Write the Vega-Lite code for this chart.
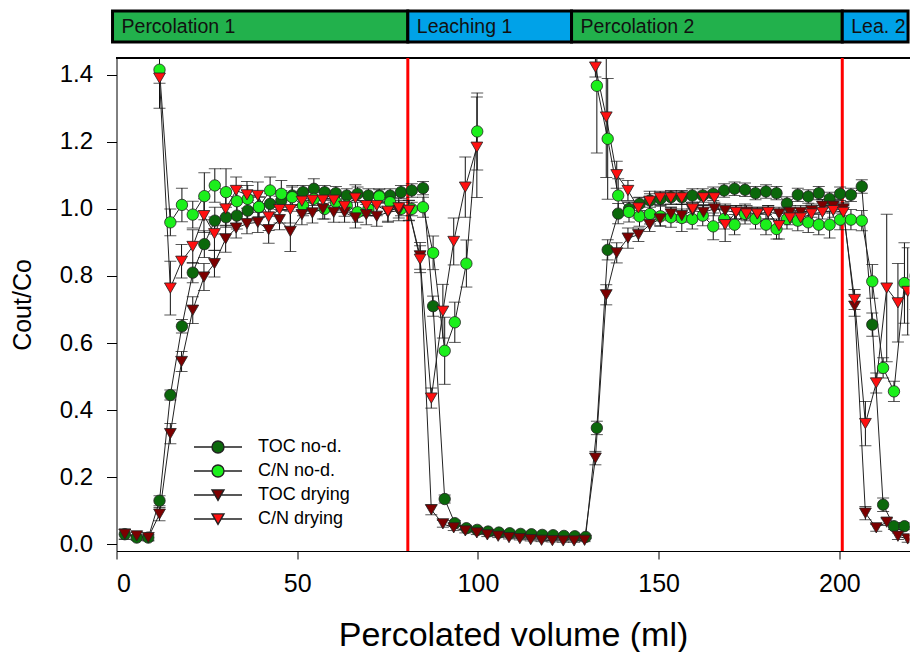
{
  "$schema": "https://vega.github.io/schema/vega-lite/v6.json",
  "padding": {"left": 10.5, "top": 9, "right": 0, "bottom": 0},
  "spacing": 12,
  "resolve": {"scale": {"color": "independent", "x": "independent", "shape": "independent"}, "legend": {"color": "independent", "shape": "independent"}},
  "config": {
    "font": "Liberation Sans",
    "view": {"stroke": null},
    "axis": {"domainColor": "#000", "tickColor": "#000", "labelColor": "#000", "titleColor": "#000", "grid": false, "titleFontWeight": "normal", "labelFont": "Liberation Sans", "titleFont": "Liberation Sans"}
  },
  "datasets": {
    "phases": [
      {"phase": "Percolation 1", "start": -1.1, "end": 80.6, "kind": "percolation"},
      {"phase": "Leaching 1", "start": 80.6, "end": 125.9, "kind": "leaching"},
      {"phase": "Percolation 2", "start": 125.9, "end": 200.8, "kind": "percolation"},
      {"phase": "Lea. 2", "start": 200.8, "end": 219.0, "kind": "leaching"}
    ],
    "obs": [
      {"s":"TOC no-d.","p":1,"x":2.3,"y":0.03,"e":0.015},{"s":"TOC no-d.","p":1,"x":5.6,"y":0.02,"e":0.008},{"s":"TOC no-d.","p":1,"x":8.8,"y":0.02,"e":0.008},{"s":"TOC no-d.","p":1,"x":11.9,"y":0.13,"e":0.015},{"s":"TOC no-d.","p":1,"x":14.9,"y":0.445,"e":0.015},{"s":"TOC no-d.","p":1,"x":18.1,"y":0.65,"e":0.02},{"s":"TOC no-d.","p":1,"x":21.1,"y":0.81,"e":0.03},{"s":"TOC no-d.","p":1,"x":24.3,"y":0.895,"e":0.04},{"s":"TOC no-d.","p":1,"x":27.2,"y":0.965,"e":0.04},{"s":"TOC no-d.","p":1,"x":30.3,"y":0.975,"e":0.03},{"s":"TOC no-d.","p":1,"x":33.3,"y":0.98,"e":0.04},{"s":"TOC no-d.","p":1,"x":36.3,"y":0.995,"e":0.03},{"s":"TOC no-d.","p":1,"x":39.4,"y":1.005,"e":0.03},{"s":"TOC no-d.","p":1,"x":42.5,"y":1.015,"e":0.03},{"s":"TOC no-d.","p":1,"x":45.6,"y":1.025,"e":0.03},{"s":"TOC no-d.","p":1,"x":48.6,"y":1.04,"e":0.03},{"s":"TOC no-d.","p":1,"x":51.6,"y":1.05,"e":0.02},{"s":"TOC no-d.","p":1,"x":54.6,"y":1.06,"e":0.03},{"s":"TOC no-d.","p":1,"x":57.6,"y":1.05,"e":0.02},{"s":"TOC no-d.","p":1,"x":60.7,"y":1.047,"e":0.02},{"s":"TOC no-d.","p":1,"x":63.7,"y":1.04,"e":0.02},{"s":"TOC no-d.","p":1,"x":66.7,"y":1.045,"e":0.02},{"s":"TOC no-d.","p":1,"x":69.7,"y":1.04,"e":0.02},{"s":"TOC no-d.","p":1,"x":72.7,"y":1.04,"e":0.02},{"s":"TOC no-d.","p":1,"x":75.7,"y":1.04,"e":0.02},{"s":"TOC no-d.","p":1,"x":78.7,"y":1.05,"e":0.02},{"s":"TOC no-d.","p":1,"x":81.7,"y":1.055,"e":0.02},
      {"s":"TOC no-d.","p":1,"x":84.8,"y":1.062,"e":0.02},{"s":"TOC no-d.","p":1,"x":87.6,"y":0.71,"e":0.03},{"s":"TOC no-d.","p":1,"x":90.8,"y":0.135,"e":0.012},{"s":"TOC no-d.","p":1,"x":93.6,"y":0.063,"e":0.008},{"s":"TOC no-d.","p":1,"x":96.8,"y":0.048,"e":0.006},{"s":"TOC no-d.","p":1,"x":99.8,"y":0.043,"e":0.005},{"s":"TOC no-d.","p":1,"x":102.8,"y":0.038,"e":0.005},{"s":"TOC no-d.","p":1,"x":105.8,"y":0.035,"e":0.005},{"s":"TOC no-d.","p":1,"x":108.8,"y":0.033,"e":0.004},{"s":"TOC no-d.","p":1,"x":111.8,"y":0.031,"e":0.004},{"s":"TOC no-d.","p":1,"x":114.8,"y":0.03,"e":0.004},{"s":"TOC no-d.","p":1,"x":117.8,"y":0.028,"e":0.004},{"s":"TOC no-d.","p":1,"x":120.8,"y":0.027,"e":0.004},{"s":"TOC no-d.","p":1,"x":123.8,"y":0.025,"e":0.004},{"s":"TOC no-d.","p":1,"x":126.8,"y":0.024,"e":0.004},{"s":"TOC no-d.","p":1,"x":129.8,"y":0.022,"e":0.004},
      {"s":"TOC no-d.","p":1,"x":132.9,"y":0.347,"e":0.02},{"s":"TOC no-d.","p":1,"x":135.9,"y":0.878,"e":0.03},{"s":"TOC no-d.","p":1,"x":138.8,"y":0.986,"e":0.03},{"s":"TOC no-d.","p":1,"x":141.8,"y":1.0,"e":0.02},{"s":"TOC no-d.","p":1,"x":144.7,"y":1.015,"e":0.02},{"s":"TOC no-d.","p":1,"x":147.6,"y":1.025,"e":0.02},{"s":"TOC no-d.","p":1,"x":150.5,"y":1.03,"e":0.02},{"s":"TOC no-d.","p":1,"x":153.4,"y":1.035,"e":0.02},{"s":"TOC no-d.","p":1,"x":156.4,"y":1.035,"e":0.02},{"s":"TOC no-d.","p":1,"x":159.3,"y":1.04,"e":0.02},{"s":"TOC no-d.","p":1,"x":162.2,"y":1.04,"e":0.02},{"s":"TOC no-d.","p":1,"x":165.1,"y":1.045,"e":0.02},{"s":"TOC no-d.","p":1,"x":168.1,"y":1.055,"e":0.02},{"s":"TOC no-d.","p":1,"x":171.0,"y":1.06,"e":0.02},{"s":"TOC no-d.","p":1,"x":173.9,"y":1.057,"e":0.02},{"s":"TOC no-d.","p":1,"x":176.8,"y":1.047,"e":0.02},{"s":"TOC no-d.","p":1,"x":179.7,"y":1.052,"e":0.02},{"s":"TOC no-d.","p":1,"x":182.6,"y":1.047,"e":0.02},{"s":"TOC no-d.","p":1,"x":185.5,"y":1.016,"e":0.02},{"s":"TOC no-d.","p":1,"x":188.5,"y":1.042,"e":0.02},{"s":"TOC no-d.","p":1,"x":191.4,"y":1.037,"e":0.02},{"s":"TOC no-d.","p":1,"x":194.3,"y":1.047,"e":0.02},{"s":"TOC no-d.","p":1,"x":197.3,"y":1.03,"e":0.02},{"s":"TOC no-d.","p":1,"x":200.2,"y":1.045,"e":0.02},{"s":"TOC no-d.","p":1,"x":203.2,"y":1.042,"e":0.02},{"s":"TOC no-d.","p":1,"x":206.2,"y":1.067,"e":0.02},{"s":"TOC no-d.","p":1,"x":209.1,"y":0.655,"e":0.035},{"s":"TOC no-d.","p":1,"x":212.1,"y":0.118,"e":0.02},{"s":"TOC no-d.","p":1,"x":215.1,"y":0.054,"e":0.01},{"s":"TOC no-d.","p":1,"x":218.0,"y":0.054,"e":0.01},{"s":"TOC no-d.","p":1,"x":221.0,"y":0.05,"e":0.01},

      {"s":"C/N no-d.","p":1,"x":11.9,"y":1.415,"e":0.04},{"s":"C/N no-d.","p":1,"x":14.9,"y":0.96,"e":0.04},{"s":"C/N no-d.","p":1,"x":18.1,"y":1.012,"e":0.05},{"s":"C/N no-d.","p":1,"x":21.1,"y":0.983,"e":0.04},{"s":"C/N no-d.","p":1,"x":24.3,"y":1.038,"e":0.07},{"s":"C/N no-d.","p":1,"x":27.2,"y":1.07,"e":0.05},{"s":"C/N no-d.","p":1,"x":30.3,"y":1.05,"e":0.07},{"s":"C/N no-d.","p":1,"x":33.3,"y":1.023,"e":0.04},{"s":"C/N no-d.","p":1,"x":36.3,"y":1.03,"e":0.04},{"s":"C/N no-d.","p":1,"x":39.4,"y":1.006,"e":0.03},{"s":"C/N no-d.","p":1,"x":42.5,"y":1.055,"e":0.04},{"s":"C/N no-d.","p":1,"x":45.6,"y":1.045,"e":0.04},{"s":"C/N no-d.","p":1,"x":48.6,"y":1.035,"e":0.03},{"s":"C/N no-d.","p":1,"x":51.6,"y":1.01,"e":0.03},{"s":"C/N no-d.","p":1,"x":54.6,"y":1.03,"e":0.02},{"s":"C/N no-d.","p":1,"x":57.6,"y":1.0,"e":0.03},{"s":"C/N no-d.","p":1,"x":60.7,"y":1.02,"e":0.02},{"s":"C/N no-d.","p":1,"x":63.7,"y":1.01,"e":0.02},{"s":"C/N no-d.","p":1,"x":66.7,"y":0.99,"e":0.03},{"s":"C/N no-d.","p":1,"x":69.7,"y":1.0,"e":0.02},{"s":"C/N no-d.","p":1,"x":72.7,"y":1.037,"e":0.02},{"s":"C/N no-d.","p":1,"x":75.7,"y":1.02,"e":0.02},{"s":"C/N no-d.","p":1,"x":78.7,"y":1.0,"e":0.02},{"s":"C/N no-d.","p":1,"x":81.7,"y":1.0,"e":0.02},{"s":"C/N no-d.","p":1,"x":84.8,"y":1.005,"e":0.03},{"s":"C/N no-d.","p":1,"x":87.6,"y":0.869,"e":0.05},{"s":"C/N no-d.","p":1,"x":90.8,"y":0.577,"e":0.1},{"s":"C/N no-d.","p":1,"x":93.6,"y":0.662,"e":0.06},{"s":"C/N no-d.","p":1,"x":96.8,"y":0.837,"e":0.07},{"s":"C/N no-d.","p":1,"x":99.8,"y":1.231,"e":0.115},
      {"s":"C/N no-d.","p":2,"x":132.9,"y":1.367,"e":0.2},{"s":"C/N no-d.","p":2,"x":135.9,"y":1.209,"e":0.18},{"s":"C/N no-d.","p":2,"x":138.8,"y":1.04,"e":0.05},{"s":"C/N no-d.","p":2,"x":141.8,"y":0.991,"e":0.03},{"s":"C/N no-d.","p":2,"x":144.7,"y":0.978,"e":0.03},{"s":"C/N no-d.","p":2,"x":147.6,"y":0.985,"e":0.03},{"s":"C/N no-d.","p":2,"x":150.5,"y":0.978,"e":0.03},{"s":"C/N no-d.","p":2,"x":153.4,"y":0.975,"e":0.03},{"s":"C/N no-d.","p":2,"x":156.4,"y":0.973,"e":0.04},{"s":"C/N no-d.","p":2,"x":159.3,"y":0.97,"e":0.03},{"s":"C/N no-d.","p":2,"x":162.2,"y":0.98,"e":0.03},{"s":"C/N no-d.","p":2,"x":165.1,"y":0.948,"e":0.04},{"s":"C/N no-d.","p":2,"x":168.1,"y":0.97,"e":0.03},{"s":"C/N no-d.","p":2,"x":171.0,"y":0.953,"e":0.03},{"s":"C/N no-d.","p":2,"x":173.9,"y":0.985,"e":0.03},{"s":"C/N no-d.","p":2,"x":176.8,"y":0.97,"e":0.03},{"s":"C/N no-d.","p":2,"x":179.7,"y":0.953,"e":0.03},{"s":"C/N no-d.","p":2,"x":182.6,"y":0.94,"e":0.03},{"s":"C/N no-d.","p":2,"x":185.5,"y":0.97,"e":0.03},{"s":"C/N no-d.","p":2,"x":188.5,"y":0.965,"e":0.03},{"s":"C/N no-d.","p":2,"x":191.4,"y":0.96,"e":0.03},{"s":"C/N no-d.","p":2,"x":194.3,"y":0.953,"e":0.03},{"s":"C/N no-d.","p":2,"x":197.3,"y":0.953,"e":0.04},{"s":"C/N no-d.","p":2,"x":200.2,"y":0.968,"e":0.03},{"s":"C/N no-d.","p":2,"x":203.2,"y":0.968,"e":0.03},{"s":"C/N no-d.","p":2,"x":206.2,"y":0.965,"e":0.03},{"s":"C/N no-d.","p":2,"x":209.1,"y":0.784,"e":0.05},{"s":"C/N no-d.","p":2,"x":212.1,"y":0.526,"e":0.03},{"s":"C/N no-d.","p":2,"x":215.1,"y":0.456,"e":0.03},{"s":"C/N no-d.","p":2,"x":218.0,"y":0.779,"e":0.12},{"s":"C/N no-d.","p":2,"x":221.0,"y":0.8,"e":0.1},

      {"s":"TOC drying","p":1,"x":2.3,"y":0.03,"e":0.015},{"s":"TOC drying","p":1,"x":5.6,"y":0.025,"e":0.01},{"s":"TOC drying","p":1,"x":8.8,"y":0.02,"e":0.01},{"s":"TOC drying","p":1,"x":11.9,"y":0.09,"e":0.02},{"s":"TOC drying","p":1,"x":14.9,"y":0.33,"e":0.03},{"s":"TOC drying","p":1,"x":18.0,"y":0.545,"e":0.03},{"s":"TOC drying","p":1,"x":21.1,"y":0.698,"e":0.04},{"s":"TOC drying","p":1,"x":24.2,"y":0.797,"e":0.04},{"s":"TOC drying","p":1,"x":27.1,"y":0.837,"e":0.04},{"s":"TOC drying","p":1,"x":30.2,"y":0.911,"e":0.04},{"s":"TOC drying","p":1,"x":33.1,"y":0.943,"e":0.03},{"s":"TOC drying","p":1,"x":36.1,"y":0.956,"e":0.03},{"s":"TOC drying","p":1,"x":39.1,"y":0.96,"e":0.03},{"s":"TOC drying","p":1,"x":42.1,"y":0.938,"e":0.04},{"s":"TOC drying","p":1,"x":45.1,"y":0.968,"e":0.03},{"s":"TOC drying","p":1,"x":48.1,"y":0.933,"e":0.06},{"s":"TOC drying","p":1,"x":51.3,"y":0.983,"e":0.03},{"s":"TOC drying","p":1,"x":54.2,"y":0.988,"e":0.03},{"s":"TOC drying","p":1,"x":57.1,"y":1.0,"e":0.03},{"s":"TOC drying","p":1,"x":60.1,"y":0.99,"e":0.03},{"s":"TOC drying","p":1,"x":63.1,"y":0.99,"e":0.03},{"s":"TOC drying","p":1,"x":66.1,"y":0.973,"e":0.03},{"s":"TOC drying","p":1,"x":69.1,"y":0.983,"e":0.03},{"s":"TOC drying","p":1,"x":72.0,"y":0.978,"e":0.03},{"s":"TOC drying","p":1,"x":75.1,"y":0.99,"e":0.03},{"s":"TOC drying","p":1,"x":78.1,"y":0.995,"e":0.03},{"s":"TOC drying","p":1,"x":80.9,"y":0.995,"e":0.03},
      {"s":"TOC drying","p":1,"x":84.0,"y":0.86,"e":0.04},{"s":"TOC drying","p":1,"x":87.1,"y":0.103,"e":0.015},{"s":"TOC drying","p":1,"x":90.3,"y":0.061,"e":0.01},{"s":"TOC drying","p":1,"x":93.3,"y":0.049,"e":0.008},{"s":"TOC drying","p":1,"x":96.5,"y":0.04,"e":0.006},{"s":"TOC drying","p":1,"x":99.7,"y":0.034,"e":0.005},{"s":"TOC drying","p":1,"x":102.6,"y":0.028,"e":0.005},{"s":"TOC drying","p":1,"x":105.6,"y":0.024,"e":0.004},{"s":"TOC drying","p":1,"x":108.6,"y":0.02,"e":0.004},{"s":"TOC drying","p":1,"x":111.6,"y":0.017,"e":0.004},{"s":"TOC drying","p":1,"x":114.6,"y":0.014,"e":0.004},{"s":"TOC drying","p":1,"x":117.6,"y":0.012,"e":0.004},{"s":"TOC drying","p":1,"x":120.6,"y":0.011,"e":0.004},{"s":"TOC drying","p":1,"x":123.6,"y":0.01,"e":0.004},{"s":"TOC drying","p":1,"x":126.6,"y":0.01,"e":0.004},{"s":"TOC drying","p":1,"x":129.5,"y":0.012,"e":0.004},
      {"s":"TOC drying","p":1,"x":132.5,"y":0.257,"e":0.02},{"s":"TOC drying","p":1,"x":135.5,"y":0.744,"e":0.03},{"s":"TOC drying","p":1,"x":138.4,"y":0.869,"e":0.03},{"s":"TOC drying","p":1,"x":141.5,"y":0.913,"e":0.03},{"s":"TOC drying","p":1,"x":144.4,"y":0.923,"e":0.02},{"s":"TOC drying","p":1,"x":147.5,"y":0.953,"e":0.02},{"s":"TOC drying","p":1,"x":150.4,"y":0.97,"e":0.02},{"s":"TOC drying","p":1,"x":153.4,"y":0.985,"e":0.02},{"s":"TOC drying","p":1,"x":156.4,"y":0.98,"e":0.02},{"s":"TOC drying","p":1,"x":159.4,"y":0.995,"e":0.02},{"s":"TOC drying","p":1,"x":162.4,"y":0.99,"e":0.02},{"s":"TOC drying","p":1,"x":165.4,"y":1.0,"e":0.02},{"s":"TOC drying","p":1,"x":168.4,"y":0.995,"e":0.02},{"s":"TOC drying","p":1,"x":171.4,"y":0.99,"e":0.02},{"s":"TOC drying","p":1,"x":174.3,"y":0.99,"e":0.02},{"s":"TOC drying","p":1,"x":177.3,"y":0.985,"e":0.02},{"s":"TOC drying","p":1,"x":180.3,"y":0.99,"e":0.02},{"s":"TOC drying","p":1,"x":183.3,"y":0.985,"e":0.02},{"s":"TOC drying","p":1,"x":186.3,"y":0.99,"e":0.02},{"s":"TOC drying","p":1,"x":189.3,"y":0.99,"e":0.02},{"s":"TOC drying","p":1,"x":192.3,"y":0.995,"e":0.02},{"s":"TOC drying","p":1,"x":195.3,"y":1.008,"e":0.02},{"s":"TOC drying","p":1,"x":198.3,"y":1.008,"e":0.02},{"s":"TOC drying","p":1,"x":201.1,"y":1.0,"e":0.02},{"s":"TOC drying","p":1,"x":204.2,"y":0.71,"e":0.03},{"s":"TOC drying","p":1,"x":207.2,"y":0.093,"e":0.02},{"s":"TOC drying","p":1,"x":210.2,"y":0.049,"e":0.01},{"s":"TOC drying","p":1,"x":213.1,"y":0.066,"e":0.01},{"s":"TOC drying","p":1,"x":216.2,"y":0.024,"e":0.01},{"s":"TOC drying","p":1,"x":218.9,"y":0.016,"e":0.01},{"s":"TOC drying","p":1,"x":221.8,"y":0.015,"e":0.01},

      {"s":"C/N drying","p":1,"x":11.9,"y":1.39,"e":0.09},{"s":"C/N drying","p":1,"x":14.9,"y":0.764,"e":0.08},{"s":"C/N drying","p":1,"x":18.0,"y":0.844,"e":0.05},{"s":"C/N drying","p":1,"x":21.1,"y":0.888,"e":0.05},{"s":"C/N drying","p":1,"x":24.2,"y":0.98,"e":0.05},{"s":"C/N drying","p":1,"x":27.1,"y":0.926,"e":0.05},{"s":"C/N drying","p":1,"x":30.2,"y":1.0,"e":0.05},{"s":"C/N drying","p":1,"x":33.1,"y":1.055,"e":0.04},{"s":"C/N drying","p":1,"x":36.1,"y":1.042,"e":0.04},{"s":"C/N drying","p":1,"x":39.1,"y":1.04,"e":0.04},{"s":"C/N drying","p":1,"x":42.1,"y":0.976,"e":0.04},{"s":"C/N drying","p":1,"x":45.1,"y":0.998,"e":0.04},{"s":"C/N drying","p":1,"x":48.1,"y":0.998,"e":0.04},{"s":"C/N drying","p":1,"x":51.3,"y":1.023,"e":0.03},{"s":"C/N drying","p":1,"x":54.2,"y":1.026,"e":0.03},{"s":"C/N drying","p":1,"x":57.1,"y":1.026,"e":0.03},{"s":"C/N drying","p":1,"x":60.1,"y":1.026,"e":0.03},{"s":"C/N drying","p":1,"x":63.1,"y":1.008,"e":0.03},{"s":"C/N drying","p":1,"x":66.1,"y":1.032,"e":0.04},{"s":"C/N drying","p":1,"x":69.1,"y":1.01,"e":0.03},{"s":"C/N drying","p":1,"x":72.0,"y":1.01,"e":0.03},{"s":"C/N drying","p":1,"x":75.1,"y":0.993,"e":0.03},{"s":"C/N drying","p":1,"x":78.1,"y":1.003,"e":0.03},{"s":"C/N drying","p":1,"x":80.9,"y":0.996,"e":0.03},{"s":"C/N drying","p":1,"x":84.0,"y":0.85,"e":0.04},{"s":"C/N drying","p":1,"x":87.1,"y":0.436,"e":0.03},{"s":"C/N drying","p":1,"x":90.3,"y":0.695,"e":0.08},{"s":"C/N drying","p":1,"x":93.3,"y":0.903,"e":0.07},{"s":"C/N drying","p":1,"x":96.5,"y":1.065,"e":0.09},{"s":"C/N drying","p":1,"x":99.7,"y":1.184,"e":0.15},
      {"s":"C/N drying","p":2,"x":132.5,"y":1.423,"e":0.03},{"s":"C/N drying","p":2,"x":135.5,"y":1.274,"e":0.18},{"s":"C/N drying","p":2,"x":138.4,"y":1.102,"e":0.04},{"s":"C/N drying","p":2,"x":141.5,"y":1.055,"e":0.03},{"s":"C/N drying","p":2,"x":144.4,"y":1.003,"e":0.03},{"s":"C/N drying","p":2,"x":147.5,"y":1.023,"e":0.03},{"s":"C/N drying","p":2,"x":150.4,"y":1.033,"e":0.02},{"s":"C/N drying","p":2,"x":153.4,"y":1.033,"e":0.02},{"s":"C/N drying","p":2,"x":156.4,"y":1.033,"e":0.02},{"s":"C/N drying","p":2,"x":159.4,"y":1.0,"e":0.02},{"s":"C/N drying","p":2,"x":162.4,"y":1.033,"e":0.02},{"s":"C/N drying","p":2,"x":165.4,"y":1.033,"e":0.02},{"s":"C/N drying","p":2,"x":168.4,"y":0.953,"e":0.05},{"s":"C/N drying","p":2,"x":171.4,"y":0.99,"e":0.02},{"s":"C/N drying","p":2,"x":174.3,"y":0.985,"e":0.02},{"s":"C/N drying","p":2,"x":177.3,"y":0.985,"e":0.02},{"s":"C/N drying","p":2,"x":180.3,"y":0.99,"e":0.02},{"s":"C/N drying","p":2,"x":183.3,"y":0.95,"e":0.04},{"s":"C/N drying","p":2,"x":186.3,"y":0.973,"e":0.02},{"s":"C/N drying","p":2,"x":189.3,"y":0.973,"e":0.02},{"s":"C/N drying","p":2,"x":192.3,"y":0.985,"e":0.02},{"s":"C/N drying","p":2,"x":195.3,"y":0.99,"e":0.02},{"s":"C/N drying","p":2,"x":198.3,"y":0.995,"e":0.02},{"s":"C/N drying","p":2,"x":201.1,"y":0.99,"e":0.02},{"s":"C/N drying","p":2,"x":204.2,"y":0.73,"e":0.03},{"s":"C/N drying","p":2,"x":207.2,"y":0.36,"e":0.066},{"s":"C/N drying","p":2,"x":210.2,"y":0.481,"e":0.03},{"s":"C/N drying","p":2,"x":213.1,"y":0.764,"e":0.22},{"s":"C/N drying","p":2,"x":216.2,"y":0.72,"e":0.117},{"s":"C/N drying","p":2,"x":218.9,"y":0.754,"e":0.13}
    ]
  },
  "vconcat": [
    {
      "width": 793,
      "height": 31,
      "data": {"name": "phases"},
      "encoding": {
        "x": {"field": "start", "type": "quantitative", "scale": {"domain": [0, 219.4], "nice": false, "zero": false}, "axis": null}
      },
      "layer": [
        {
          "mark": {"type": "rect", "stroke": "#000", "strokeWidth": 3},
          "encoding": {
            "x2": {"field": "end"},
            "color": {"field": "kind", "type": "nominal", "scale": {"domain": ["percolation", "leaching"], "range": ["#22b14c", "#00a2e8"]}, "legend": null}
          }
        },
        {
          "mark": {"type": "text", "align": "left", "baseline": "middle", "dx": 9, "fontSize": 19.5, "color": "#111"},
          "encoding": {"text": {"field": "phase"}}
        }
      ]
    },
    {
      "width": 793,
      "height": 493,
      "data": {"name": "obs"},
      "encoding": {
        "x": {"field": "x", "type": "quantitative", "scale": {"domain": [0, 219.4], "nice": false, "zero": false},
              "axis": {"title": "Percolated volume (ml)", "values": [0, 50, 100, 150, 200], "tickSize": 8, "labelFontSize": 25, "labelPadding": 12, "titleFontSize": 34, "titlePadding": 22}},
        "y": {"field": "y", "type": "quantitative", "scale": {"domain": [-0.02, 1.45], "nice": false, "zero": false},
              "axis": {"title": "Cout/Co", "values": [0, 0.2, 0.4, 0.6, 0.8, 1.0, 1.2, 1.4], "format": ".1f", "tickSize": 10, "labelFontSize": 24, "labelPadding": 14, "titleFontSize": 25, "titleX": -94, "titleBaseline": "middle"}}
      },
      "layer": [
        {
          "mark": {"type": "rule", "color": "#000", "strokeWidth": 1},
          "encoding": {"y": {"datum": 1.45}, "x": null}
        },
        {
          "data": {"values": [{"boundary": 80.6}, {"boundary": 200.8}]},
          "mark": {"type": "rule", "color": "#ff0000", "strokeWidth": 3},
          "encoding": {"x": {"field": "boundary", "type": "quantitative"}, "y": null}
        },
        {
          "mark": {"type": "line", "color": "#222", "strokeWidth": 1, "clip": true},
          "encoding": {"detail": [{"field": "s"}, {"field": "p"}]}
        },
        {
          "mark": {"type": "errorbar", "color": "#111", "thickness": 1, "ticks": {"size": 12, "color": "#111"}, "clip": true},
          "encoding": {"yError": {"field": "e"}}
        },
        {
          "transform": [{"filter": "indexof(datum.s, 'no-d') >= 0"}],
          "mark": {"type": "point", "shape": "circle", "filled": true, "opacity": 1, "size": 130, "stroke": "#222", "strokeWidth": 0.8, "clip": true},
          "encoding": {
            "color": {"field": "s", "type": "nominal", "scale": {"domain": ["TOC no-d.", "C/N no-d.", "TOC drying", "C/N drying"], "range": ["#0b680b", "#1bef1b", "#7d0000", "#ff1010"]}}
          }
        },
        {
          "transform": [{"filter": "indexof(datum.s, 'drying') >= 0"}],
          "mark": {"type": "point", "shape": "triangle-down", "filled": true, "opacity": 1, "size": 140, "stroke": "#222", "strokeWidth": 0.8, "clip": true},
          "encoding": {
            "color": {"field": "s", "type": "nominal"}
          }
        },
        {
          "transform": [{"filter": "false"}],
          "mark": {"type": "point", "filled": true, "opacity": 1, "size": 144, "stroke": "#000", "strokeWidth": 1.4},
          "encoding": {
            "color": {"field": "s", "type": "nominal",
                      "legend": {"title": null, "orient": "none", "legendX": 92.5, "legendY": 380, "padding": 0, "symbolSize": 144, "symbolStrokeColor": "#000", "symbolStrokeWidth": 1.4, "labelFontSize": 18, "labelFont": "Liberation Sans", "labelColor": "#000", "labelOffset": 31, "rowPadding": 6}},
            "shape": {"field": "s", "type": "nominal", "legend": null,
                      "scale": {"domain": ["TOC no-d.", "C/N no-d.", "TOC drying", "C/N drying"],
                                "range": ["M-4,0H-1M1,0H4M1,0A1,1,0,1,1,-1,0A1,1,0,1,1,1,0Z", "M-4,0H-1M1,0H4M1,0A1,1,0,1,1,-1,0A1,1,0,1,1,1,0Z", "M-4,0H-0.55M0.55,0H4M-1,-0.85L1,-0.85L0,0.9Z", "M-4,0H-0.55M0.55,0H4M-1,-0.85L1,-0.85L0,0.9Z"]}}
          }
        }
      ]
    }
  ]
}
